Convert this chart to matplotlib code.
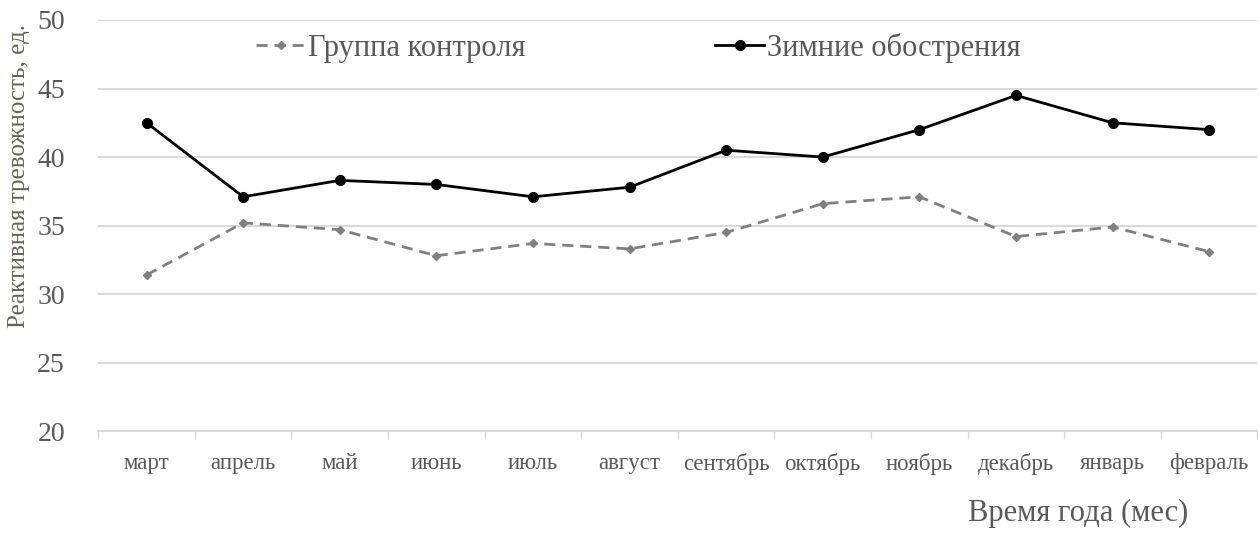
import numpy as np
import matplotlib
matplotlib.use("Agg")
import matplotlib.pyplot as plt
from matplotlib.ticker import FixedLocator

plt.rcParams["font.family"] = ["Liberation Serif", "DejaVu Serif"]

# данные
months = ["март", "апрель", "май", "июнь", "июль", "август", "сентябрь",
          "октябрь", "ноябрь", "декабрь", "январь", "февраль"]
control = [31.4, 35.2, 34.7, 32.8, 33.7, 33.3, 34.5, 36.6, 37.1, 34.2, 34.9, 33.1]
winter = [42.5, 37.1, 38.3, 38.0, 37.1, 37.8, 40.5, 40.0, 42.0, 44.5, 42.5, 42.0]
y_ticks = [20, 25, 30, 35, 40, 45, 50]

text_gray = "#595959"
grid_gray = "#d9d9d9"

fig = plt.figure(figsize=(12.6, 5.33), dpi=100)
ax = fig.add_axes([0.078, 0.191, 0.92, 0.7715])

x = np.arange(len(months))

ax.plot(x, control, color="#808080", linestyle=(0, (4, 2.5)), linewidth=2,
        marker="D", markersize=4, label="Группа контроля")
ax.plot(x, winter, color="black", linewidth=2,
        marker="o", markersize=7, label="Зимние обострения")

ax.set_xlim(-0.5, len(months) - 0.5)
ax.set_ylim(20, 50)
ax.set_yticks(y_ticks)
ax.yaxis.grid(True, color=grid_gray, linewidth=1.5)
ax.set_axisbelow(True)

ax.set_xticks(x)
ax.set_xticklabels(months, fontsize=16.5, color=text_gray)
ax.xaxis.set_minor_locator(FixedLocator(np.arange(-0.5, len(months), 1.0)))
ax.tick_params(axis="x", which="major", length=0, pad=16)
ax.tick_params(axis="x", which="minor", length=6, width=1, color=grid_gray, direction="out")
ax.tick_params(axis="y", length=0, labelsize=20, labelcolor=text_gray, pad=24)

for side in ["top", "right", "left"]:
    ax.spines[side].set_visible(False)
ax.spines["bottom"].set_color(grid_gray)
ax.spines["bottom"].set_linewidth(1.5)

ax.set_ylabel("Реактивная тревожность, ед.", fontsize=18, color="#6b6155")
ax.yaxis.set_label_coords(-0.059, 0.62)

fig.text(0.768, 0.022, "Время года (мес)", fontsize=22, color=text_gray)

leg = ax.legend(loc="upper center", bbox_to_anchor=(0.466, 1.035), ncol=2, frameon=False,
                fontsize=22, labelcolor=text_gray, columnspacing=6.2, handlelength=1.6,
                handletextpad=0.1)

fig.savefig("out.png", dpi=100)
